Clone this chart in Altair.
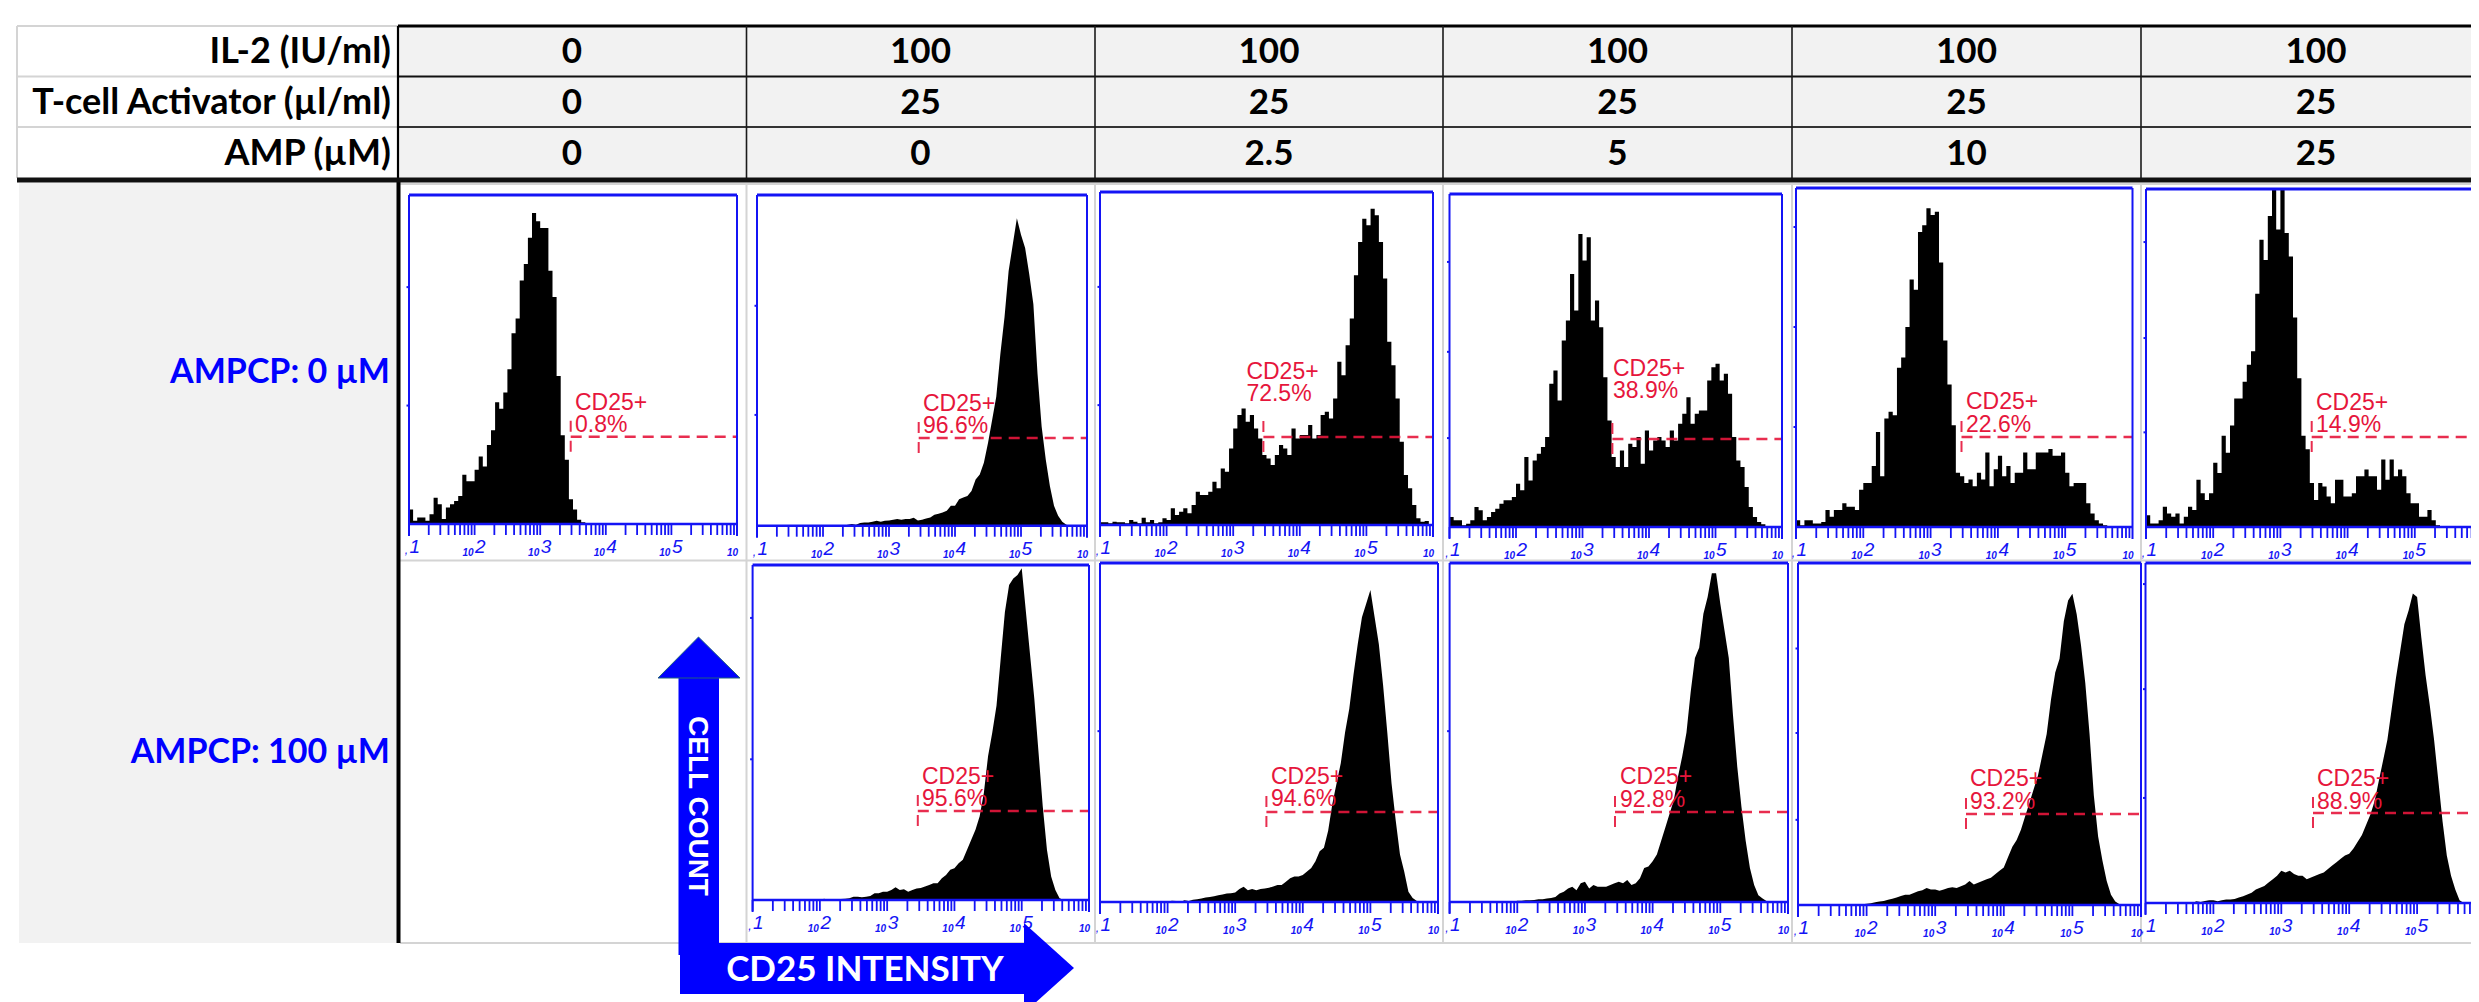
import math
import altair as alt
import pandas as pd

# ---- table text ----
header_labels = ["IL-2 (IU/ml)", "T-cell Activator (µl/ml)", "AMP (µM)"]
il2_values = ["0", "100", "100", "100", "100", "100"]
activator_values = ["0", "25", "25", "25", "25", "25"]
amp_values = ["0", "0", "2.5", "5", "10", "25"]
row_labels = ["AMPCP: 0 µM", "AMPCP: 100 µM"]

# ---- histograms: % of full scale, 16 bins per decade starting at 10^1 ----
hist_1 = [4.4,1,2,2,1,3,8,6,1.5,5,6,7,8.5,15,13,13,16.5,20.5,17.5,24,28.5,37,35,40,47,58,62.5,74,79,87,94.5,92,
          90,90,77,69,45,27,19.5,7.5,4.4,1.3,.5,0,.3,.3,.2,.3,0,0,0,0,0,0,0,0,0,0,0,0,0,0,0,0,0,0,0,0,0,0,0,0,0,0,0,0,0,0,0,0]
hist_2 = [0,0,0,0,0,0,0,0,0,0,0,0,0,0,0,0,0,0,0,0,0,0,.3,.5,.3,.8,1,1,1.2,1.5,1.2,1.5,1.6,1.8,2,1.8,2,2,2.4,1.6,1.8,2.2,2.5,3.3,
          3.6,4,4.5,6,6,8,8.5,9,10.5,14,15.5,19,25,32,39,52,63,77,85,93,88,84,76,67,46,30,20,12,6,3,1.2,.3,0,0,0,0]
hist_3 = [.8,.8,.5,1,.8,.8,.5,1.5,1,.5,2.2,.8,1.5,.5,.8,2,1.5,5,3,4,5,3.5,6,10,9,9,10,13,11,17,16,23,29,33,35,31,33,29,26,21,
          20,18,21,24,23,21,29,26,27,27,30,26,27,33,34,32,38,49,45,54,62,75,85,92,90,95,93,85,74,55,48,38,25,15,11,6,2,1,1.2,0]
hist_4 = [3,2,2,.5,1,2,6,5,2,3,4.5,5.5,7,8,8,9,13,11,21,14,20,22,24,27,43,47,38,56,62,76,65,88,80,87,62,68,60,45,32,21,
          18,23,18,25,24,27,19,29,23,26,27,26,24,29,26,31,34,39,31,34,35,35,44,48,49,44,46,40,27,20,18,12,6,3,1.5,.8,.3,0,0,0]
hist_5 = [2,.5,2,2,1,1,1.5,5,3,5,5,7,6,6,5,11,13,13,18,28,15,32,34,33,47,50,59,73,70,87,89,94,92,93,78,55,42,30,16,15,
          13,14,12,16,14,22,12,17,21,15,18,13,16,16,22,17,17,22,22,22,23,21,21,22,16,12,13,13,13,7,4,2,1,.5,.3,0,0,0,0,0]
hist_6 = [3.5,1,1,2,6,4,3,4,1,3,6,5,14,10,8,10,19,16,27,22,30,38,38,43,48,52,69,85,79,92,100,88,100,87,80,62,44,27,23,13,
          8,13,12,9,7,14,14,9,9,10,15,15,17,15,15,11,20,14,20,15,17,15,10,7,7,3,3,5,2,.5,0,0,0,0,0,0,0,0,0,0]
hist_7 = [0,0,0,0,0,0,0,0,0,0,0,0,0,0,0,0,0,.4,0,0,0,.3,.4,.5,1,1,.8,1,1.2,2,2,2.5,2.5,3,3.8,3,3.2,2.5,3,3.4,3.6,4,4.5,5,
          5,6.5,7.5,9,9.5,11,12,15,18,21,25,32,43,50,58,72,86,94,96,97,99,86,73,60,44,28,15,7,3,.5,0,0,0,0,0,0]
hist_8 = [0,0,0,0,0,0,0,0,0,0,0,0,0,0,0,0,0,.4,.3,0,.5,.3,.7,.8,1,1.3,1.5,1.7,2,2.2,2.5,2.6,2.8,3.8,4.5,3.5,3.8,3.5,3.8,4,
          4.2,4.6,5,5,6,7,7.5,7.5,8,9,10,12,15,16,21,29,35,41,50,57,67,76,84,88,92,84,76,64,50,35,24,14,9,3,1.2,.3,0,0,0,0]
hist_9 = [0,0,0,0,0,0,0,0,0,0,0,0,0,0,0,0,.4,.4,.5,.5,.6,.8,.8,1,1.2,1.5,2.5,3,4,4.5,3.5,5.5,6,4,5,4.5,4.5,4.5,5,5.5,
          6,5.5,6.5,5,5.5,7,10,10.5,12,14,18,22,26,30,37,43,50,62,72,75,85,90,97,97,88,80,72,55,40,28,18,10,5,2,1,.2,0,0,0,0]
hist_10 = [0,0,0,0,0,0,0,0,0,0,0,0,0,0,.2,.2,.4,.5,.8,1,1.2,1.5,1.8,2.2,2.6,3,3,3.5,4,4.3,5,4.5,4.5,4.2,4.5,5,5.2,5,5.5,6,
           7,6,6.5,7,7.5,8,9,10,11,14,17,19,22,26,30,34,38,44,50,60,68,72,83,89,91,85,76,65,50,32,20,13,7,3,1,.2,0,0,0,0]
hist_11 = [0,0,0,0,0,0,0,0,0,0,0,0,.5,.3,.6,.8,.8,.5,.8,1,1,1.2,1.6,2,2.5,3,4,4.5,5,6,7,8,9.5,9,9.5,8.5,8,8,7,7.5,
           8,8.5,9,10,11,12,13,14,14.5,16,18,20,23,26,30,36,42,48,57,66,74,82,86,91,90,78,67,58,48,36,24,14,8,4,.8,0,0,0,0,0]
histograms = [hist_1, hist_2, hist_3, hist_4, hist_5, hist_6, hist_7, hist_8, hist_9, hist_10, hist_11]
smooth_panels = [1, 6, 7, 8, 9, 10]
percent_labels = ["0.8%", "96.6%", "72.5%", "38.9%", "22.6%", "14.9%", "95.6%", "94.6%", "92.8%", "93.2%", "88.9%"]
y_tick_values = [[36,72],[33.5,66.5],[36,71.5],[26.7,52.6,79.6],[29.5,59,88.5],[28,55.9,84.3],[42,84.2],[50.4],[50.4],[24.9,50.3,75],[30.9,62.9,93.8]]

# ---- layout (page pixels) ----
panel_left   = [409, 757, 1100, 1449.5, 1796, 2146, 752.6, 1100, 1449.6, 1798, 2145.5]
panel_right  = [737, 1087, 1433, 1782, 2132.5, 2482, 1089, 1438, 1788, 2141, 2485]
panel_top    = [195, 195, 192, 194, 188, 189, 565, 563, 563, 563, 563]
panel_base   = [524, 525.7, 525, 527, 527, 527, 900, 902, 902, 905, 903]
gate_x       = [570.7, 918.7, 1263.4, 1612.4, 1961.5, 2311.7, 917.8, 1266.4, 1615, 1966, 2313]
gate_y       = [436.7, 438, 437, 439, 437, 437, 811, 812, 812, 814, 813]
text_left    = [575, 923, 1246.4, 1613, 1966, 2316, 922, 1271, 1620, 1970, 2317]
text_base_a  = [410, 411, 379, 376, 409, 410, 784, 784, 784, 786, 786]
text_base_b  = [432, 433, 401, 398, 432, 432, 806, 806, 807, 809, 809]

col_lines = [398, 746.5, 1095, 1443, 1792, 2141]
col_centers = [572, 920.5, 1269, 1617.5, 1966.5, 2316]
row_centers = [52, 103, 154]
PAGE_W, PAGE_H = 2471, 1002
TABLE_L = 17

sx = alt.Scale(domain=[8, PAGE_W], range=[0, PAGE_W - 8], nice=False, zero=False)
sy = alt.Scale(domain=[8, PAGE_H], range=[0, PAGE_H - 8], nice=False, zero=False)
X = alt.X("x:Q", scale=sx, axis=None)
Y = alt.Y("y:Q", scale=sy, axis=None, stack=None)
X2 = alt.X2("x2:Q")
Y2 = alt.Y2("y2:Q")

def rects(items, **kw):
    d = pd.DataFrame(items, columns=["x", "x2", "y", "y2"])
    return alt.Chart(d).mark_rect(**kw).encode(x=X, x2=X2, y=Y, y2=Y2)

def rules(items, color, width, **kw):
    d = pd.DataFrame(items, columns=["x", "x2", "y", "y2"])
    return alt.Chart(d).mark_rule(color=color, strokeWidth=width, **kw).encode(x=X, x2=X2, y=Y, y2=Y2)

def texts(items, **kw):
    d = pd.DataFrame(items, columns=["x", "y", "t"])
    return alt.Chart(d).mark_text(**kw).encode(x=X, y=Y, text="t:N")

layers = []

# table background
layers.append(rects([(398, PAGE_W, 26, 180), (19, 398, 183, 943)], color="#f2f2f2"))
layers.append(rects([(398, PAGE_W, 183, 943)], color="#ffffff"))

# light grid
grid = [(TABLE_L, 398, 26, 26), (TABLE_L, 398, 76.5, 76.5), (TABLE_L, 398, 127, 127), (TABLE_L, TABLE_L, 26, 178),
        (400, PAGE_W, 560.6, 560.6), (400, PAGE_W, 943, 943), (398, PAGE_W, 184, 184)]
grid += [(c, c, 183, 943) for c in col_lines[1:]]
layers.append(rules(grid, "#d4d4d4", 2))

# dark table lines
layers.append(rules([(398, PAGE_W, 26, 26)], "#000000", 3))
layers.append(rules([(398, PAGE_W, 76.5, 76.5)], "#111111", 2.2))
layers.append(rules([(398, PAGE_W, 127, 127)], "#333333", 2.2))
layers.append(rules([(c, c, 26, 180) for c in col_lines[1:]], "#1a1a1a", 1.6))
layers.append(rules([(398, 398, 26, 180)], "#000000", 2.2))
layers.append(rules([(398.5, 398.5, 178, 943)], "#000000", 4))
layers.append(rules([(TABLE_L, PAGE_W, 180, 180)], "#111111", 5))

# histograms
def hist_frame(panels):
    rows = []
    for p in panels:
        L, R, T, B = panel_left[p], panel_right[p], panel_top[p], panel_base[p]
        for i, v in enumerate(list(histograms[p]) + [0]):
            rows.append({"panel": p, "x": L + i / 16 / 5 * (R - L), "y": B - v / 100 * (B - T), "y2": B})
    return pd.DataFrame(rows)

spiky_panels = [p for p in range(len(histograms)) if p not in smooth_panels]
layers.append(alt.Chart(hist_frame(spiky_panels)).mark_area(interpolate="step-after", color="#000000")
              .encode(x=X, y=Y, y2=Y2, detail="panel:N"))
layers.append(alt.Chart(hist_frame(smooth_panels)).mark_area(interpolate="linear", color="#000000")
              .encode(x=X, y=Y, y2=Y2, detail="panel:N"))

# panel frames, ticks and gates
BLUE = "#1414f5"
frame, tops, bases, xticks, yticks, gate_h, gate_v = [], [], [], [], [], [], []
small, digit, comma = [], [], []
for p in range(len(histograms)):
    L, R, T, B = panel_left[p], panel_right[p], panel_top[p], panel_base[p]
    w = R - L
    frame += [(L, L, T, B + 12), (R, R, T, B + 12)]
    tops.append((L, R, T, T))
    bases.append((L, R, B, B))
    for d in range(5):
        for m in range(1, 10):
            tx = L + (d + math.log10(m)) / 5 * w
            xticks.append((tx, tx, B, B + 11))
    for v in y_tick_values[p]:
        ty = B - v / 100 * (B - T)
        yticks.append((L - 2.5, L, ty, ty))
    for d in range(1, 5):
        tx = L + d / 5 * w
        small.append((tx - 1, B + 32, "10"))
        digit.append((tx + 0.5, B + 29, str(d + 1)))
    if R < PAGE_W:
        small.append((R + 1, B + 32, "10"))
    digit.append((L + 0.5, B + 29, "1"))
    comma.append((L - 1, B + 30, ","))
    gate_h.append((gate_x[p], R, gate_y[p], gate_y[p]))
    gate_v.append((gate_x[p], gate_x[p], gate_y[p] - 16, gate_y[p] + 16))

RED = "#e6163c"
layers.append(rules(gate_h, RED, 2.4, strokeDash=[11, 7], opacity=0.9))
layers.append(rules(gate_v, RED, 2.0, strokeDash=[11, 9], opacity=0.9))
layers.append(rules(frame, BLUE, 2))
layers.append(rules(bases, BLUE, 2.4))
layers.append(rules(tops, BLUE, 3))
layers.append(rules(xticks, BLUE, 1.8))
layers.append(rules(yticks, BLUE, 2))

# fcs annotations
RED_FONT = dict(font="Liberation Sans", fontSize=23, color=RED, align="left", baseline="alphabetic")
layers.append(texts([(text_left[p], text_base_a[p], "CD25+") for p in range(len(histograms))], **RED_FONT))
layers.append(texts([(text_left[p], text_base_b[p], percent_labels[p]) for p in range(len(histograms))], **RED_FONT))
layers.append(texts(small, font="Liberation Sans", fontSize=10, fontStyle="italic", fontWeight="bold", color=BLUE, align="right", baseline="alphabetic"))
layers.append(texts(digit, font="Liberation Sans", fontSize=19, fontStyle="italic", color=BLUE, align="left", baseline="alphabetic"))
layers.append(texts(comma, font="Liberation Sans", fontSize=12, fontStyle="italic", color=BLUE, align="right", baseline="alphabetic"))

# table texts
BOLD = dict(font="Lato", fontWeight="bold", baseline="middle")
layers.append(texts([(391, row_centers[i], header_labels[i]) for i in range(3)], align="right", color="#000000", fontSize=36, **BOLD))
cells = []
for r, values in enumerate([il2_values, activator_values, amp_values]):
    for c, v in enumerate(values):
        cells.append((col_centers[c], row_centers[r], v))
layers.append(texts(cells, align="center", color="#000000", fontSize=35, **BOLD))
layers.append(texts([(390, 373, row_labels[0]), (390, 753, row_labels[1])], align="right", color="#0000ff", fontSize=34, **BOLD))

# arrows
ARROW = "#0000ff"
layers.append(rects([(678.5, 719, 676, 955), (680, 1026, 943, 994)], color=ARROW))
up = pd.DataFrame({"x": [658, 698.5, 740], "y": [678, 637, 678], "y2": [678, 678, 678]})
right = pd.DataFrame({"x": [1024, 1074], "y": [923, 968], "y2": [1013, 968]})
layers.append(alt.Chart(up).mark_area(color=ARROW, stroke="#1f5f7f", strokeWidth=1).encode(x=X, y=Y, y2=Y2))
layers.append(alt.Chart(right).mark_area(color=ARROW).encode(x=X, y=Y, y2=Y2))
layers.append(texts([(697, 806, "CELL COUNT")], font="Liberation Sans", fontWeight="bold", fontSize=28, angle=90, align="center", baseline="middle", color="#ffffff"))
layers.append(texts([(865, 970, "CD25 INTENSITY")], font="Lato", fontWeight="bold", fontSize=35, align="center", baseline="middle", color="#ffffff"))

chart = (
    alt.layer(*layers)
    .properties(width=PAGE_W - 8, height=PAGE_H - 8, padding=0, autosize=alt.AutoSizeParams(type="none"), background="#ffffff")
    .configure_view(stroke=None)
)
chart.save("out.html", embed_options={"renderer": "svg", "actions": False})
